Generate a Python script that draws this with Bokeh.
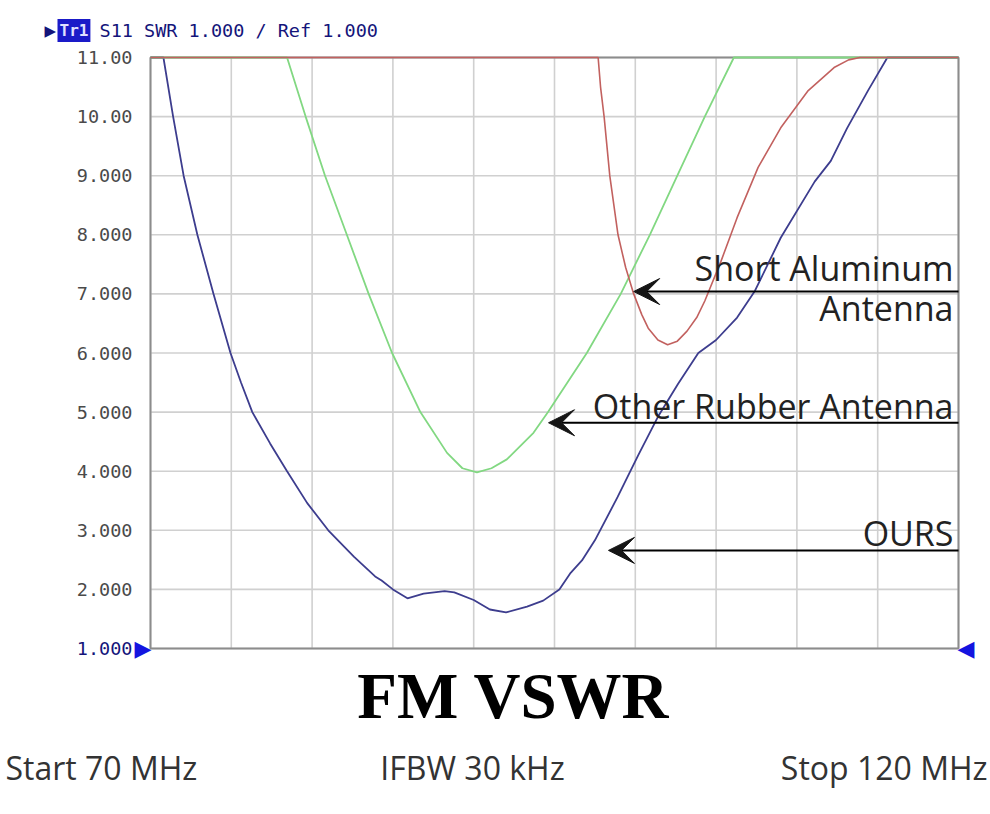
from bokeh.plotting import figure
from bokeh.models import Range1d, Label, Arrow, VeeHead
from bokeh.core.properties import value
from bokeh.embed import file_html
from bokeh.resources import INLINE

# ---- data (frequency MHz, SWR) ----
ours_f = [70, 70.8, 71.4, 72.05, 72.9, 73.9, 74.95, 75.6, 76.3, 77.4, 78.45, 79.7, 81.0, 82.6,
          83.9, 84.3, 85.0, 85.9, 86.9, 88.2, 88.8, 90.0, 91.0, 92.0, 93.3, 94.3, 95.3, 96.0,
          96.7, 97.5, 98.9, 100.2, 101.4, 102.65, 103.9, 105.0, 106.3, 107.4, 109.0, 111.1,
          112.1, 113.1, 114.4, 115.6, 120]
ours_v = [11, 11, 10, 9, 8, 7, 6, 5.5, 5, 4.47, 4, 3.46, 3.0, 2.55,
          2.22, 2.15, 2.0, 1.85, 1.93, 1.97, 1.95, 1.82, 1.66, 1.61, 1.71, 1.81, 2.0, 2.28,
          2.49, 2.83, 3.56, 4.28, 4.92, 5.48, 6.0, 6.22, 6.6, 7.05, 7.95, 8.9,
          9.25, 9.8, 10.44, 11, 11]

rubber_f = [70, 78.45, 79.6, 80.8, 82.15, 83.5, 84.95, 86.7, 88.35, 89.3, 90.2, 91.1, 92.05,
            93.7, 94.6, 97.0, 99.1, 100.9, 102.6, 104.3, 106.1, 120]
rubber_v = [11, 11, 10, 9, 8, 7, 6, 5, 4.31, 4.05, 3.98, 4.05, 4.2,
            4.65, 5.0, 6.0, 7.0, 8.0, 9.0, 10.0, 11, 11]

alum_f = [70, 97.7, 97.85, 98.07, 98.42, 98.93, 99.4, 99.9, 100.4, 100.8, 101.4, 102.0, 102.6,
          103.2, 103.8, 104.3, 105.3, 106.3, 107.6, 109.0, 110.7, 112.3, 113.2, 113.9, 120]
alum_v = [11, 11, 10.5, 10, 9, 8, 7.45, 7, 6.65, 6.42, 6.22, 6.14, 6.2,
          6.37, 6.6, 6.88, 7.55, 8.29, 9.14, 9.81, 10.44, 10.83, 10.96, 11, 11]

y_ticks = [1, 2, 3, 4, 5, 6, 7, 8, 9, 10, 11]
y_tick_labels = ["1.000", "2.000", "3.000", "4.000", "5.000", "6.000", "7.000",
                 "8.000", "9.000", "10.00", "11.00"]
x_grid = [70, 75, 80, 85, 90, 95, 100, 105, 110, 115, 120]
f_start, f_stop = 70, 120
swr_min, swr_max = 1, 11

annotations = [  # text lines, arrow tip (f, swr)
    (["Short Aluminum", "Antenna"], 99.9, 7.04),
    (["Other Rubber Antenna"], 94.63, 4.82),
    (["OURS"], 98.34, 2.66),
]

header = "S11 SWR 1.000 / Ref 1.000"
title_text = "FM VSWR"
footer = ["Start 70 MHz", "IFBW 30 kHz", "Stop 120 MHz"]

# ---- layout: the plot frame fills the canvas; the chart box sits inside it ----
W, H = 990, 814
ML, MR, MT, MB = 150, 32, 57, 166          # chart box margins in pixels
ppx = (W - ML - MR) / (f_stop - f_start)
ppy = (H - MT - MB) / (swr_max - swr_min)

p = figure(width=W, height=H,
           x_range=Range1d(f_start - ML / ppx, f_stop + MR / ppx),
           y_range=Range1d(swr_min - MB / ppy, swr_max + MT / ppy),
           output_backend="svg", toolbar_location=None, min_border=0)
p.axis.visible = False
p.grid.visible = False
p.outline_line_color = None
p.background_fill_color = "white"
p.border_fill_color = "white"

GRID = "#d0d0d0"
# grid
p.segment(x0=x_grid, y0=[swr_min] * len(x_grid), x1=x_grid, y1=[swr_max] * len(x_grid),
          line_color=GRID, line_width=1.6)
p.segment(x0=[f_start] * len(y_ticks), y0=y_ticks, x1=[f_stop] * len(y_ticks), y1=y_ticks,
          line_color=GRID, line_width=1.6)
# chart box
p.quad(left=[f_start], right=[f_stop], bottom=[swr_min], top=[swr_max],
       fill_color=None, line_color="#8c8c8c", line_width=2)

# y tick labels
TICK_FONT = value("DejaVu Sans Mono")
p.text(x=[f_start] * (len(y_ticks) - 1), y=y_ticks[1:], text=y_tick_labels[1:],
       x_offset=-18, text_align="right", text_baseline="middle",
       text_font=TICK_FONT, text_font_size="18.5px", text_color="#4a4a4a")
p.text(x=[f_start], y=[y_ticks[0]], text=[y_tick_labels[0]],
       x_offset=-18, text_align="right", text_baseline="middle",
       text_font=TICK_FONT, text_font_size="18.5px", text_color="#14147a")
# reference markers
p.text(x=[f_start], y=[swr_min], text=["\u25B6"], x_offset=1, text_align="right",
       text_baseline="middle", text_font=value("DejaVu Sans"), text_font_size="22px",
       text_color="#1414e0")
p.text(x=[f_stop], y=[swr_min], text=["\u25C0"], x_offset=-1, text_align="left",
       text_baseline="middle", text_font=value("DejaVu Sans"), text_font_size="22px",
       text_color="#1414e0")

# traces
p.line(ours_f, ours_v, line_color="#3d3d8e", line_width=1.8)
p.line(rubber_f, rubber_v, line_color="#82d882", line_width=1.8)
p.line(alum_f, alum_v, line_color="#c2615f", line_width=1.6)

# annotations with arrows
FONT = "Open Sans"
for lines, tf, tv in annotations:
    p.add_layout(Arrow(x_start=f_stop, y_start=tv, x_end=tf, y_end=tv, line_color="black",
                       line_width=2,
                       end=VeeHead(size=26, line_width=1, fill_color="#151515",
                                   line_color="#151515")))
    if len(lines) == 2:
        p.add_layout(Label(x=f_stop, y=tv, text=lines[0], x_offset=-5, y_offset=24,
                           text_align="right", text_baseline="middle",
                           text_font=FONT, text_font_size="34px", text_color="#222222"))
        p.add_layout(Label(x=f_stop, y=tv, text=lines[1], x_offset=-5, y_offset=-16,
                           text_align="right", text_baseline="middle",
                           text_font=FONT, text_font_size="34px", text_color="#222222"))
    else:
        p.add_layout(Label(x=f_stop, y=tv, text=lines[0], x_offset=-5, y_offset=17,
                           text_align="right", text_baseline="middle",
                           text_font=FONT, text_font_size="34px", text_color="#222222"))


def slabel(x, y_top, text, **kw):
    """Label in screen units; y_top measured from the top of the canvas."""
    p.add_layout(Label(x=x, y=H - y_top, x_units="screen", y_units="screen", text=text, **kw))


# header
slabel(44, 30, "\u25B6", text_align="left", text_baseline="middle",
       text_font="DejaVu Sans", text_font_size="15px", text_color="#14147a")
slabel(57, 30, "Tr1", text_align="left", text_baseline="middle",
       text_font="DejaVu Sans Mono", text_font_size="16px", text_font_style="bold",
       text_color="#e0e0ff", background_fill_color="#1a1ac8", padding=2)
slabel(99, 30, header, text_align="left", text_baseline="middle",
       text_font="DejaVu Sans Mono", text_font_size="18.5px", text_color="#14147a")

# title and footer
slabel(513, 695, title_text, text_align="center", text_baseline="middle",
       text_font="Liberation Serif", text_font_style="bold", text_font_size="65px",
       text_color="black")
slabel(5, 767, footer[0], text_align="left", text_baseline="middle",
       text_font=FONT, text_font_size="32px", text_color="#333333")
slabel(472, 767, footer[1], text_align="center", text_baseline="middle",
       text_font=FONT, text_font_size="32px", text_color="#333333")
slabel(987, 767, footer[2], text_align="right", text_baseline="middle",
       text_font=FONT, text_font_size="32px", text_color="#333333")

open("out.html", "w").write(file_html(p, INLINE))
